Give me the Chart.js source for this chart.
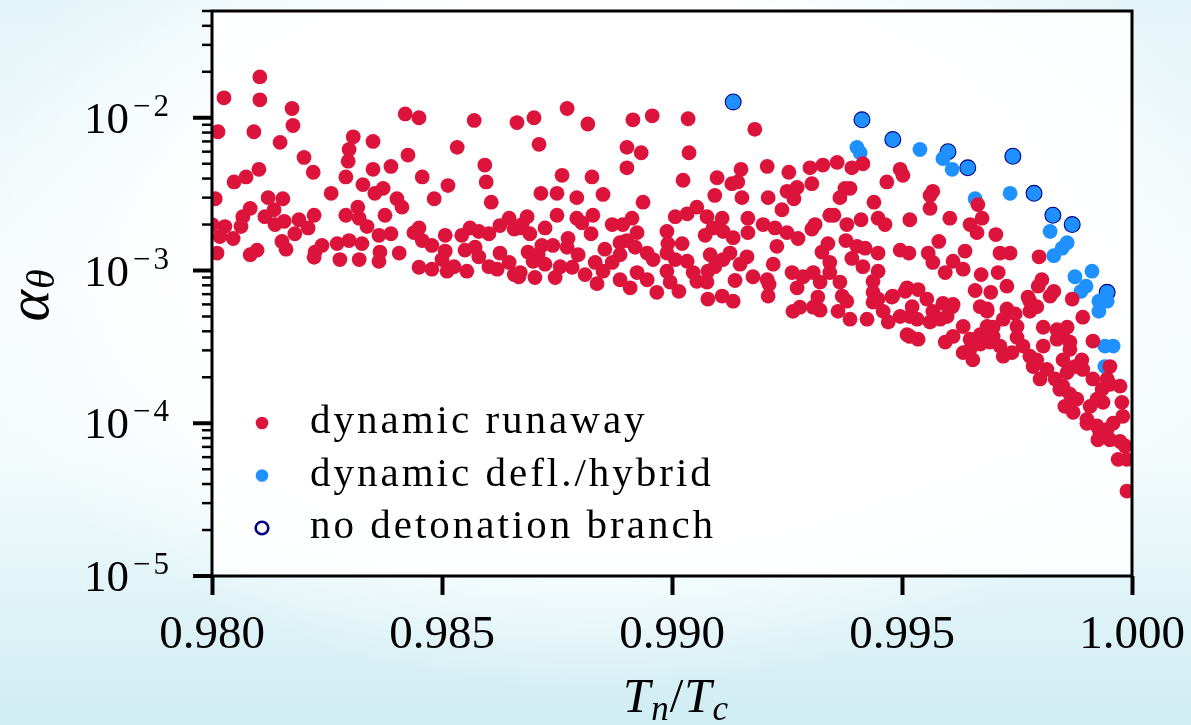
<!DOCTYPE html>
<html>
<head>
<meta charset="utf-8">
<script src="https://cdn.jsdelivr.net/npm/chart.js@4.4.0/dist/chart.umd.min.js"></script>
<style>
  html, body { margin: 0; padding: 0; }
  body {
    width: 1191px; height: 725px; overflow: hidden;
    background:
      radial-gradient(ellipse 55% 60% at 50% 35%, #ffffff 60%, rgba(255,255,255,0) 100%),
      linear-gradient(to bottom, #e3f4f8 0%, #f6fbfc 40%, #f4fbfc 62%, #cfedf3 100%);
  }
  canvas { display: block; }
</style>
</head>
<body>
<canvas id="scatter" width="1191" height="725"></canvas>
<script>
// [T_n/T_c, alpha_theta]
const runaway = [
  [0.98104,1.85e-2],[0.98026,1.35e-2],[0.98104,1.31e-2],[0.98174,1.15e-2],[0.98013,8.1e-3],[0.98091,8.1e-3],[0.98176,8.9e-3],[0.98148,6.9e-3],
  [0.98420,1.06e-2],[0.98450,1.0e-2],[0.98570,9.6e-3],[0.98663,9.3e-3],[0.98307,7.5e-3],[0.98350,7.0e-3],[0.98298,6.2e-3],[0.98296,5.2e-3],
  [0.98291,4.1e-3],[0.98200,5.5e-3],[0.98220,4.4e-3],[0.98048,3.8e-3],[0.98074,4.1e-3],[0.98102,4.6e-3],[0.98350,4.6e-3],[0.98389,4.8e-3],
  [0.98426,5.7e-3],[0.98533,6.4e-3],[0.98593,4.9e-3],[0.98596,3.8e-3],[0.98607,2.8e-3],[0.98457,4.1e-3],[0.98513,3.6e-3],[0.98483,2.95e-3],
  [0.98328,3.65e-3],[0.98259,3.2e-3],[0.98354,3.2e-3],[0.98372,3.45e-3],[0.98402,2.95e-3],[0.98413,2.6e-3],[0.98007,2.95e-3],[0.98122,3.0e-3],
  [0.98154,2.95e-3],[0.98083,2.55e-3],[0.98135,2.5e-3],[0.98115,2.25e-3],[0.98067,2.25e-3],[0.98063,1.94e-3],[0.98028,1.94e-3],[0.98000,2.0e-3],
  [0.98157,2.1e-3],[0.98137,2.0e-3],[0.98189,2.15e-3],[0.98222,2.3e-3],[0.98209,1.9e-3],[0.98317,2.6e-3],[0.98291,2.3e-3],[0.98320,2.2e-3],
  [0.98337,1.94e-3],[0.98376,2.3e-3],[0.98389,1.74e-3],[0.98363,1.7e-3],[0.98017,1.67e-3],[0.98046,1.62e-3],[0.98180,1.74e-3],[0.98152,1.55e-3],
  [0.98161,1.38e-3],[0.98098,1.36e-3],[0.98083,1.27e-3],[0.98011,1.3e-3],[0.98224,1.32e-3],[0.98239,1.46e-3],[0.98222,1.22e-3],[0.98272,1.5e-3],
  [0.98298,1.57e-3],[0.98278,1.18e-3],[0.98326,1.5e-3],[0.98320,1.18e-3],[0.98365,1.32e-3],[0.98363,1.15e-3],[0.98407,1.3e-3],[0.98450,1.9e-3],
  [0.98439,1.77e-3],[0.98457,1.57e-3],[0.98478,1.46e-3],[0.98507,1.7e-3],[0.98507,1.34e-3],[0.98500,1.18e-3],[0.98450,1.05e-3],[0.98478,1.02e-3],
  [0.98511,9.9e-4],[0.98526,1.06e-3],[0.98554,9.9e-4],[0.98543,1.7e-3],[0.98561,1.9e-3],[0.98580,1.8e-3],[0.98602,1.74e-3],[0.98626,1.97e-3],
  [0.98646,2.2e-3],[0.98657,1.87e-3],[0.98674,2.0e-3],[0.98550,1.36e-3],[0.98572,1.42e-3],[0.98580,1.23e-3],[0.98602,1.06e-3],[0.98626,1.3e-3],
  [0.98620,1.02e-3],[0.98646,1.13e-3],[0.98657,9.4e-4],[0.98667,9.1e-4],
  [0.98700,1.0e-2],[0.98772,1.15e-2],[0.98817,9.1e-3],[0.98711,6.7e-3],[0.98915,9.7e-3],[0.98957,1.03e-2],[0.99035,9.85e-3],[0.99180,8.4e-3],
  [0.98902,6.4e-3],[0.98933,5.9e-3],[0.99037,5.9e-3],[0.98902,4.7e-3],[0.98761,4.2e-3],[0.98826,4.1e-3],[0.99024,3.9e-3],[0.99098,4.05e-3],
  [0.99150,4.6e-3],[0.99207,4.8e-3],[0.99254,4.4e-3],[0.99300,4.7e-3],[0.99328,4.9e-3],[0.99304,3.7e-3],[0.99130,3.7e-3],[0.99143,3.8e-3],
  [0.99093,3.1e-3],[0.99152,3.0e-3],[0.99209,3.0e-3],[0.99250,3.3e-3],[0.99272,3.5e-3],[0.99265,2.95e-3],[0.98715,3.2e-3],[0.98750,3.2e-3],
  [0.98793,3.0e-3],[0.98850,3.15e-3],[0.98937,2.8e-3],[0.99239,2.5e-3],[0.98685,2.25e-3],[0.98750,2.3e-3],[0.98793,2.2e-3],[0.98804,2.05e-3],
  [0.98828,2.3e-3],[0.98870,2.0e-3],[0.98893,2.0e-3],[0.98913,2.2e-3],[0.98924,1.77e-3],[0.98824,1.74e-3],[0.99007,2.25e-3],[0.99033,2.35e-3],
  [0.99054,2.6e-3],[0.99076,2.25e-3],[0.99109,2.2e-3],[0.98989,1.8e-3],[0.99072,1.7e-3],[0.99089,1.9e-3],[0.99111,1.8e-3],[0.99133,1.64e-3],
  [0.99165,2.2e-3],[0.99165,1.77e-3],[0.99198,2.0e-3],[0.99224,1.9e-3],[0.99250,1.77e-3],[0.99274,1.62e-3],[0.99311,2.0e-3],[0.99304,1.87e-3],
  [0.99343,2.3e-3],[0.99228,1.44e-3],[0.98670,1.9e-3],[0.98691,1.74e-3],[0.98724,1.9e-3],[0.98717,1.46e-3],[0.98741,1.46e-3],[0.98687,1.32e-3],
  [0.98709,1.27e-3],[0.98698,1.15e-3],[0.98724,1.1e-3],[0.98774,1.62e-3],[0.98772,1.42e-3],[0.98796,1.27e-3],[0.98670,9.7e-4],[0.98702,9.0e-4],
  [0.98746,9.0e-4],[0.98757,1.06e-3],[0.98783,1.05e-3],[0.98811,9.4e-4],[0.98837,8.2e-4],[0.98833,1.13e-3],[0.98854,1.38e-3],[0.98887,1.52e-3],
  [0.98902,1.57e-3],[0.98920,1.42e-3],[0.98946,1.3e-3],[0.98959,1.18e-3],[0.98887,1.27e-3],[0.98870,1.13e-3],[0.98850,9.9e-4],[0.98887,8.7e-4],
  [0.98909,7.7e-4],[0.98924,9.7e-4],[0.98946,8.7e-4],[0.98967,7.2e-4],[0.98989,9.9e-4],[0.98996,8.4e-4],[0.99015,7.3e-4],[0.98991,1.5e-3],
  [0.99022,1.5e-3],[0.98989,1.3e-3],[0.99007,1.18e-3],[0.99033,1.15e-3],[0.99046,9.7e-4],[0.99054,8.5e-4],[0.99083,1.27e-3],[0.99078,9.9e-4],
  [0.99093,1.06e-3],[0.99111,1.18e-3],[0.99126,1.3e-3],[0.99148,1.1e-3],[0.99163,1.23e-3],[0.99076,8.4e-4],[0.99078,6.5e-4],[0.99109,6.8e-4],
  [0.99133,6.3e-4],[0.99137,8.6e-4],[0.99176,9.1e-4],[0.99207,8.7e-4],[0.99211,8.1e-4],[0.99209,6.8e-4],[0.99220,1.1e-3],[0.99261,9.7e-4],
  [0.99285,9.1e-4],[0.99307,9.7e-4],[0.99322,8.4e-4],[0.99272,7.7e-4],[0.99317,6.7e-4],[0.99307,5.75e-4],[0.99278,5.75e-4],[0.99263,5.4e-4],
  [0.99322,5.5e-4],[0.99343,9.7e-4],[0.99326,1.32e-3],[0.99339,1.5e-3],[0.99343,1.13e-3],
  [0.99359,5.1e-3],[0.99391,4.7e-3],[0.99415,5.0e-3],[0.99496,4.6e-3],[0.99502,4.2e-3],[0.99467,3.8e-3],[0.99376,3.45e-3],[0.99387,3.45e-3],
  [0.99365,3.0e-3],[0.99439,2.8e-3],[0.99567,3.3e-3],[0.99561,3.1e-3],[0.99561,2.55e-3],[0.99665,2.7e-3],[0.99352,2.3e-3],[0.99380,2.0e-3],
  [0.99411,2.15e-3],[0.99448,2.2e-3],[0.99463,2.0e-3],[0.99517,2.15e-3],[0.99604,2.2e-3],[0.99648,2.0e-3],[0.99674,2.2e-3],[0.99663,1.77e-3],
  [0.99704,1.72e-3],[0.99378,1.57e-3],[0.99402,1.44e-3],[0.99420,1.4e-3],[0.99448,1.3e-3],[0.99391,1.2e-3],[0.99496,1.36e-3],[0.99515,1.3e-3],
  [0.99557,1.3e-3],[0.99567,1.13e-3],[0.99580,1.55e-3],[0.99637,1.34e-3],[0.99611,1.15e-3],[0.99633,1.02e-3],[0.99594,9.7e-4],[0.99713,1.3e-3],
  [0.99735,1.3e-3],[0.99709,9.7e-4],[0.99728,7.9e-4],[0.99672,9.4e-4],[0.99659,7.4e-4],[0.99693,7.2e-4],[0.99798,1.23e-3],[0.99804,8.7e-4],
  [0.99796,7.9e-4],[0.99830,7.3e-4],[0.99774,6.7e-4],[0.99870,6.5e-4],[0.99893,4.95e-4],[0.99915,3.45e-4],[0.99365,8.4e-4],[0.99370,6.8e-4],
  [0.99380,6.3e-4],[0.99387,4.8e-4],[0.99424,4.8e-4],[0.99415,1.06e-3],[0.99448,9.9e-4],[0.99437,8.5e-4],[0.99437,7.2e-4],[0.99448,6.5e-4],
  [0.99480,6.8e-4],[0.99459,5.4e-4],[0.99470,4.6e-4],[0.99511,7.7e-4],[0.99535,7.5e-4],[0.99522,5.8e-4],[0.99554,6.5e-4],[0.99567,5.4e-4],
  [0.99589,6.1e-4],[0.99609,5.8e-4],[0.99583,4.8e-4],[0.99517,3.7e-4],[0.99535,3.55e-4],[0.99670,5.8e-4],[0.99685,5.4e-4],[0.99698,4.25e-4],
  [0.99728,5.6e-4],[0.99746,5.2e-4],[0.99750,4.3e-4],[0.99778,5.4e-4],[0.99793,5.8e-4],[0.99807,4.25e-4],[0.99837,4.1e-4],[0.99859,4.25e-4],
  [0.99952,2.35e-4],[0.99974,1.75e-4],[0.99952,1.8e-4],[0.99978,1.37e-4],[0.99980,1.11e-4],[0.99959,1.0e-4],[0.99946,9.1e-5],[0.99926,7.8e-5],
  [0.99974,7.6e-5],[0.99985,7.1e-5],[0.99970,5.8e-5],[0.99989,5.8e-5],[0.99989,3.6e-5],[0.99865,1.55e-4],[0.99880,1.44e-4],[0.99854,1.29e-4],
  [0.99872,1.18e-4],[0.99902,1.06e-4],[0.99909,1.29e-4],[0.99924,1.44e-4],[0.99937,1.37e-4],[0.99843,1.67e-4],[0.99850,1.75e-4],[0.99859,2.15e-4],
  [0.99876,2.35e-4],[0.99891,2.6e-4],[0.99893,2.25e-4],[0.99915,1.95e-4],[0.99935,1.67e-4],[0.99946,1.95e-4],[0.99902,1.0e-4],[0.99924,9.6e-5],
  [0.99930,8.7e-5],[0.99952,7.8e-5],[0.99800,1.95e-4],[0.99833,1.95e-4],[0.99815,2.25e-4],[0.99850,2.6e-4],[0.99865,3.05e-4],[0.99785,2.35e-4],
  [0.99778,2.75e-4],[0.99763,3.2e-4],[0.99750,3.65e-4],[0.99793,2.6e-4],[0.99807,3.2e-4],[0.99850,3.95e-4],[0.99865,3.4e-4],[0.99837,3.55e-4],
  [0.99720,2.75e-4],[0.99739,2.9e-4],[0.99713,3.2e-4],[0.99691,3.4e-4],[0.99670,3.3e-4],[0.99648,3.05e-4],[0.99654,2.6e-4],[0.99633,2.9e-4],
  [0.99685,4.3e-4],[0.99698,3.7e-4],[0.99670,3.8e-4],[0.99648,3.55e-4],[0.99633,4.3e-4],[0.99611,3.7e-4],[0.99594,3.4e-4],[0.99511,3.8e-4],
  [0.99517,5.0e-4],[0.99533,4.8e-4],[0.99496,5.0e-4],[0.99478,6.7e-4],[0.99507,7.3e-4],[0.99561,4.6e-4],[0.99598,5.0e-4],[0.99611,6.0e-4],
  [0.99437,6.2e-4],[0.99361,5.4e-4],[0.99720,4.8e-4],[0.99685,5.6e-4],[0.99778,6.3e-4],[0.99822,6.8e-4]
];

const hybrid = [
  [0.99402,6.4e-3],[0.99409,5.9e-3],[0.99539,6.2e-3],[0.99589,5.4e-3],[0.99609,4.6e-3],[0.99659,2.95e-3],[0.99735,3.2e-3],
  [0.99822,1.8e-3],[0.99859,1.52e-3],[0.99848,1.4e-3],[0.99830,1.25e-3],[0.99876,9.1e-4],[0.99913,9.9e-4],[0.99900,7.9e-4],
  [0.99889,7.3e-4],[0.99928,6.3e-4],[0.99946,6.3e-4],[0.99928,5.4e-4],[0.99941,3.2e-4],[0.99959,3.2e-4],[0.99941,2.35e-4],
  // the same points that have no detonation branch
  [0.99133,1.27e-2],[0.99413,9.7e-3],[0.99480,7.2e-3],[0.99600,6.0e-3],[0.99643,4.7e-3],[0.99741,5.6e-3],[0.99787,3.2e-3],
  [0.99828,2.3e-3],[0.99870,2.0e-3],[0.99946,7.2e-4]
];

const noDetonation = [
  [0.99133,1.27e-2],[0.99413,9.7e-3],[0.99480,7.2e-3],[0.99600,6.0e-3],[0.99643,4.7e-3],[0.99741,5.6e-3],[0.99787,3.2e-3],
  [0.99828,2.3e-3],[0.99870,2.0e-3],[0.99946,7.2e-4]
];

const xTickValues = [0.980, 0.985, 0.990, 0.995, 1.000];
const yDecades = [-5, -4, -3, -2];
const yMin = 1e-5, yMax = 5e-2;

const toPoints = arr => arr.map(p => ({x: p[0], y: p[1]}));

// minor log ticks 2..9 x 10^d
const yMinorTicks = [];
yDecades.forEach(d => {
  for (let m = 2; m <= 9; m++) {
    const v = m * Math.pow(10, d);
    if (v <= yMax * 1.0001) yMinorTicks.push(v);
  }
});

const serif = '"Liberation Serif", "Times New Roman", serif';

const figureDecor = {
  id: 'figureDecor',
  beforeDraw(chart) {
    const {ctx, chartArea: a} = chart;
    ctx.save();
    ctx.fillStyle = 'rgba(255,255,255,0.85)';
    ctx.fillRect(a.left, a.top, a.right - a.left, a.bottom - a.top);
    ctx.restore();
  },
  afterDraw(chart) {
    const {ctx, chartArea: a, scales} = chart;
    const y = scales.y;
    ctx.save();
    ctx.strokeStyle = '#000';
    ctx.fillStyle = '#000';

    // frame
    ctx.lineWidth = 3;
    ctx.strokeRect(a.left, a.top, a.right - a.left, a.bottom - a.top);

    // y ticks
    ctx.lineCap = 'butt';
    ctx.lineWidth = 2.5;
    yMinorTicks.forEach(v => {
      const py = y.getPixelForValue(v);
      ctx.beginPath(); ctx.moveTo(a.left - 10, py); ctx.lineTo(a.left, py); ctx.stroke();
    });
    ctx.lineWidth = 4;
    yDecades.forEach(d => {
      const py = y.getPixelForValue(Math.pow(10, d));
      ctx.beginPath(); ctx.moveTo(a.left - 19, py); ctx.lineTo(a.left, py); ctx.stroke();
    });

    // y tick labels 10^{d}
    ctx.textAlign = 'left';
    ctx.textBaseline = 'alphabetic';
    const rightEdge = a.left - 40;
    yDecades.forEach(d => {
      const py = y.getPixelForValue(Math.pow(10, d));
      const exp = '\u2212' + Math.abs(d);
      ctx.font = '31px ' + serif;
      ctx.letterSpacing = '3px';
      const ew = ctx.measureText(exp).width;
      ctx.fillText(exp, rightEdge - ew, py - 2);
      ctx.letterSpacing = '0px';
      ctx.font = '45px ' + serif;
      const bw = ctx.measureText('10').width;
      ctx.fillText('10', rightEdge - ew - 4 - bw, py + 15);
    });

    // x title  T_n / T_c
    const main = 'italic 49px ' + serif, sub = 'italic 35px ' + serif, up = '49px ' + serif;
    const parts = [['T', main, 0], ['n', sub, 8], ['/', up, 0], ['T', main, 0], ['c', sub, 8]];
    let tw = 0;
    parts.forEach(p => { ctx.font = p[1]; tw += ctx.measureText(p[0]).width + 1; });
    let cx = (a.left + a.right) / 2 + 4 - tw / 2;
    const baseX = 712;
    parts.forEach(p => {
      ctx.font = p[1];
      ctx.fillText(p[0], cx, baseX + p[2]);
      cx += ctx.measureText(p[0]).width + 1;
    });

    // y title  alpha_theta (rotated)
    ctx.save();
    ctx.translate(48, 296);
    ctx.rotate(-Math.PI / 2);
    ctx.font = 'italic 60px ' + serif;
    const aw = ctx.measureText('\u03b1').width;
    ctx.font = 'italic 40px ' + serif;
    const thw = ctx.measureText('\u03b8').width;
    const start = -(aw + thw) / 2;
    ctx.font = 'italic 60px ' + serif;
    ctx.fillText('\u03b1', start, 0);
    ctx.font = 'italic 40px ' + serif;
    ctx.fillText('\u03b8', start + aw + 1, 6);
    ctx.restore();

    // legend
    const ds = chart.data.datasets;
    const rowY0 = a.bottom - 153;
    const mx = a.left + 50;
    ds.forEach((set, i) => {
      const ry = rowY0 + i * 52.5;
      ctx.beginPath();
      ctx.arc(mx, ry, 6.3, 0, Math.PI * 2);
      if (set.pointBorderWidth > 0) {
        ctx.lineWidth = 2.6;
        ctx.strokeStyle = set.pointBorderColor;
        ctx.stroke();
      } else {
        ctx.fillStyle = set.pointBackgroundColor;
        ctx.fill();
      }
      ctx.fillStyle = '#000';
      ctx.font = '41px ' + serif;
      ctx.letterSpacing = '3px';
      ctx.fillText(set.label, a.left + 98, ry + 10);
      ctx.letterSpacing = '0px';
    });
    ctx.restore();
  }
};

function drawChart() {
  new Chart(document.getElementById('scatter'), {
    type: 'scatter',
    data: {
      datasets: [{
        label: 'dynamic runaway',
        data: toPoints(runaway),
        pointRadius: 7.4,
        pointBackgroundColor: '#DC143C',
        pointBorderColor: '#DC143C',
        pointBorderWidth: 0
      }, {
        label: 'dynamic defl./hybrid',
        data: toPoints(hybrid),
        pointRadius: 7.4,
        pointBackgroundColor: '#1E90FF',
        pointBorderColor: '#1E90FF',
        pointBorderWidth: 0
      }, {
        label: 'no detonation branch',
        data: toPoints(noDetonation),
        pointRadius: 7,
        pointBackgroundColor: 'rgba(0,0,0,0)',
        pointBorderColor: '#000080',
        pointBorderWidth: 3
      }]
    },
    options: {
      responsive: false,
      animation: false,
      events: [],
      layout: { padding: { top: 11, right: 59, left: 0, bottom: 0 } },
      plugins: { legend: { display: false }, tooltip: { enabled: false } },
      scales: {
        x: {
          type: 'linear',
          min: 0.98,
          max: 1.0,
          afterBuildTicks: s => { s.ticks = xTickValues.map(v => ({value: v})); },
          afterFit: s => { s.height = 149; s.paddingLeft = 0; s.paddingRight = 0; },
          ticks: {
            color: '#000',
            padding: 12,
            maxRotation: 0,
            font: { family: serif, size: 47 },
            callback: v => Number(v).toFixed(3)
          },
          grid: { drawOnChartArea: false, tickLength: 19, tickWidth: 4, tickColor: '#000' },
          border: { display: false }
        },
        y: {
          type: 'logarithmic',
          min: yMin,
          max: yMax,
          afterFit: s => { s.width = 212; s.paddingTop = 0; s.paddingBottom = 0; },
          ticks: { display: false },
          grid: { display: false },
          border: { display: false }
        }
      }
    },
    plugins: [figureDecor]
  });
}

Promise.all([
  document.fonts.load('47px "Liberation Serif"'),
  document.fonts.load('italic 48px "Liberation Serif"')
]).then(drawChart, drawChart);
</script>
</body>
</html>
